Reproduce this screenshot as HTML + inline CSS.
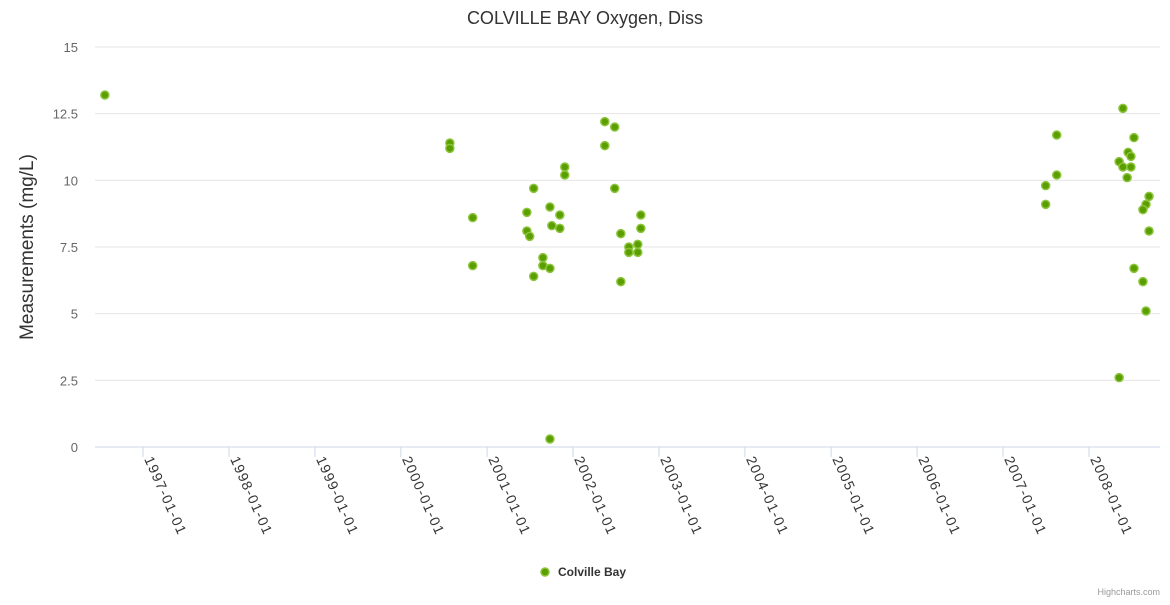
<!DOCTYPE html>
<html><head><meta charset="utf-8">
<style>
body{margin:0;background:#fff;font-family:"Liberation Sans",sans-serif;}
svg text{font-family:"Liberation Sans",sans-serif;}
</style></head>
<body>
<svg id="chart" width="1170" height="600">
<text x="585" y="24" text-anchor="middle" font-size="18" fill="#333">COLVILLE BAY Oxygen, Diss</text>
<text transform="translate(33,247) rotate(-90)" text-anchor="middle" font-size="19" fill="#333">Measurements (mg/L)</text>
<g id="grid"></g><g id="xaxis"></g><g id="points"></g>
<g>
<circle cx="545" cy="572" r="4" fill="#5a9e00" stroke="#8cc43c" stroke-width="1.5"></circle>
<text x="558" y="576" font-size="12" font-weight="bold" fill="#333">Colville Bay</text>
</g>
<text x="1160" y="595" text-anchor="end" font-size="9" fill="#999">Highcharts.com</text>
</svg>
<script>
const yTicks=[0,2.5,5,7.5,10,12.5,15];
const xTickYears=[1997,1998,1999,2000,2001,2002,2003,2004,2005,2006,2007,2008];
const dates=["1996-07-23","2000-07-27","2000-07-27","2000-11-01","2000-11-01",
"2001-06-19","2001-06-19","2001-07-01","2001-07-18","2001-07-18","2001-08-26","2001-08-26",
"2001-09-25","2001-09-25","2001-09-25","2001-10-03","2001-11-06","2001-11-06","2001-11-27","2001-11-27",
"2002-05-16","2002-05-16","2002-06-27","2002-06-27","2002-07-23","2002-07-23","2002-08-26","2002-08-26",
"2002-10-03","2002-10-03","2002-10-16","2002-10-16",
"2007-07-01","2007-07-01","2007-08-17","2007-08-17",
"2008-05-24","2008-05-08","2008-05-24","2008-06-15","2008-06-27","2008-06-11","2008-06-27","2008-07-10",
"2008-09-12","2008-08-30","2008-08-17","2008-09-12","2008-07-10","2008-08-17","2008-08-30","2008-05-08"];
const values=[13.2,11.4,11.2,8.6,6.8,
8.8,8.1,7.9,9.7,6.4,7.1,6.8,
9.0,0.3,6.7,8.3,8.7,8.2,10.5,10.2,
12.2,11.3,12.0,9.7,8.0,6.2,7.5,7.3,
7.6,7.3,8.7,8.2,
9.8,9.1,11.7,10.2,
12.7,10.7,10.5,11.05,10.9,10.1,10.5,11.6,
9.4,9.1,8.9,8.1,6.7,6.2,5.1,2.6];
const NS="http://www.w3.org/2000/svg";
const t0=Date.UTC(1997,0,1),t1=Date.UTC(2008,0,1);
function xs(t){return 143+(t-t0)/(t1-t0)*(1089-143);}
function ys(v){return 447-v/15*400;}
function mk(tag,attrs,parent){const e=document.createElementNS(NS,tag);for(const k in attrs)e.setAttribute(k,attrs[k]);parent.appendChild(e);return e;}
const grid=document.getElementById('grid');
yTicks.forEach(v=>{
  const l=mk('line',{x1:95,x2:1160,y1:ys(v),y2:ys(v),stroke:v===0?'#ccd6eb':'#e6e6e6','stroke-width':1},grid);
  
  
  const t=mk('text',{x:78,y:ys(v)+5,'text-anchor':'end','font-size':13,fill:'#666'},grid);
  t.textContent=String(v);
  
  
});
const xa=document.getElementById('xaxis');
xTickYears.forEach(yr=>{
  const x=xs(Date.UTC(yr,0,1));
  const tk=mk('line',{x1:x,x2:x,y1:447,y2:457,stroke:'#ccd6eb'},xa);
  
  
  const t=mk('text',{transform:`translate(${x+1},459) rotate(66)`,'font-size':14,'letter-spacing':1.3,fill:'#333'},xa);
  t.textContent=yr+'-01-01';
  
  
});
const pg=document.getElementById('points');
dates.forEach((d,i)=>{
  const p=d.split('-').map(Number);
  const c=mk('circle',{cx:xs(Date.UTC(p[0],p[1]-1,p[2])),cy:ys(values[i]),r:4,fill:'#5a9e00',stroke:'#8cc43c','stroke-width':1.5},pg);
  
  
});
</script>
</body></html>
